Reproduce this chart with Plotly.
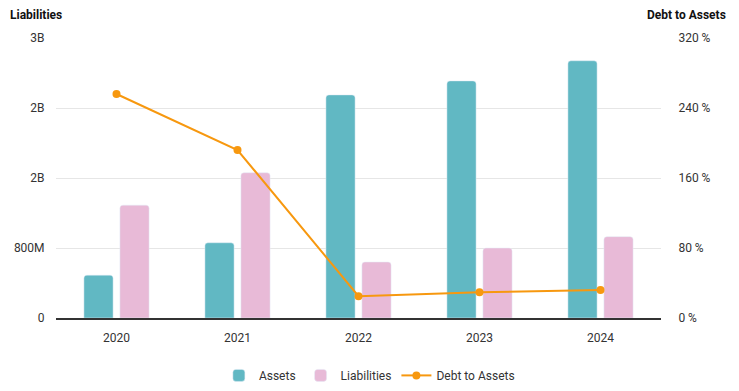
import plotly.graph_objects as go

years = ["2020", "2021", "2022", "2023", "2024"]
assets = [0.49e9, 0.86e9, 2.55e9, 2.71e9, 2.94e9]
liabilities = [1.29e9, 1.66e9, 0.64e9, 0.80e9, 0.93e9]
debt_to_assets = [256, 192, 25, 29.5, 32]

left_tickvals = [0, 0.8e9, 1.6e9, 2.4e9, 3.2e9]
left_ticktext = ["0", "800M", "2B", "2B", "3B"]
right_tickvals = [0, 80, 160, 240, 320]
right_ticktext = ["0 %", "80 %", "160 %", "240 %", "320 %"]

FONT = "Roboto, Arial, sans-serif"

fig = go.Figure()
fig.add_trace(go.Bar(x=years, y=assets, name="Assets", marker=dict(color="#61b8c3")))
fig.add_trace(go.Bar(x=years, y=liabilities, name="Liabilities", marker=dict(color="#e8bad7")))
fig.add_trace(go.Scatter(x=years, y=debt_to_assets, name="Debt to Assets", yaxis="y2",
                         mode="lines+markers",
                         line=dict(color="#f7980f", width=2),
                         marker=dict(color="#f7980f", size=8)))

# page body has an 8px margin, so the figure is 731x383 placed at (8, 8)
fig.update_layout(
    width=731, height=383,
    margin=dict(l=48, r=78, t=30, b=73, autoexpand=False),
    paper_bgcolor="white", plot_bgcolor="white",
    font=dict(family=FONT, size=12, color="#333333"),
    barmode="group", bargap=0.405, bargroupgap=0.19, barcornerradius=3,
    showlegend=True,
    legend=dict(orientation="h", x=0.518, xanchor="center", y=-0.205, yanchor="middle",
                font=dict(size=12, color="#333333"), itemwidth=30),
    xaxis=dict(showgrid=False, showline=True, linecolor="#333333", linewidth=1.5,
               ticks="outside", ticklen=8, tickcolor="rgba(0,0,0,0)", automargin=False,
               tickfont=dict(size=12, color="#333333")),
    yaxis=dict(range=[0, 3.2e9], tickvals=left_tickvals, ticktext=left_ticktext,
               showgrid=True, gridcolor="#e6e6e6", zeroline=False, automargin=False,
               ticks="outside", ticklen=8, tickcolor="rgba(0,0,0,0)",
               tickfont=dict(size=12, color="#333333")),
    yaxis2=dict(range=[0, 320], tickvals=right_tickvals, ticktext=right_ticktext,
                overlaying="y", side="right", showgrid=False, zeroline=False, automargin=False,
                ticks="outside", ticklen=14, tickcolor="rgba(0,0,0,0)",
                tickfont=dict(size=12, color="#333333")),
    annotations=[
        dict(text="<b>Liabilities</b>", xref="paper", yref="paper",
             x=(8 - 56) / 605, y=1 + (38 - 15) / 280, xanchor="left", yanchor="middle",
             showarrow=False, font=dict(size=12, color="#111111")),
        dict(text="<b>Debt to Assets</b>", xref="paper", yref="paper",
             x=(728 - 56) / 605, y=1 + (38 - 15) / 280, xanchor="right", yanchor="middle",
             showarrow=False, font=dict(size=12, color="#111111")),
    ],
)

fig.write_html("out.html")
